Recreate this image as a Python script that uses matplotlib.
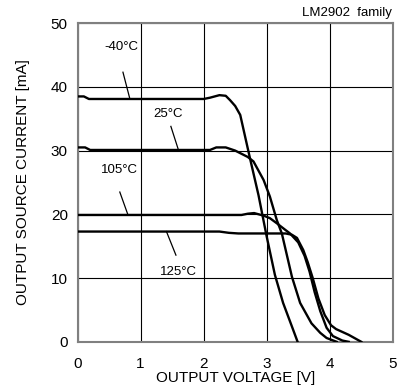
import matplotlib
matplotlib.use("Agg")
import matplotlib.pyplot as plt

plt.rcParams['font.family'] = ['Liberation Sans', 'DejaVu Sans']

# curves (output voltage [V], source current [mA])
v_m40 = [0, 0.1, 0.18, 2.0, 2.1, 2.25, 2.35, 2.42, 2.5, 2.58, 2.73, 2.87, 3.0, 3.13, 3.26, 3.4, 3.49]
i_m40 = [38.5, 38.5, 38.1, 38.1, 38.3, 38.7, 38.6, 37.9, 37.0, 35.6, 29.0, 23.0, 16.5, 10.5, 6.1, 2.4, 0]

v_25 = [0, 0.12, 0.2, 2.1, 2.2, 2.35, 2.5, 2.58, 2.7, 2.79, 2.95, 3.05, 3.16, 3.24, 3.4, 3.53, 3.71, 3.85, 3.95, 4.11]
i_25 = [30.5, 30.5, 30.1, 30.1, 30.5, 30.5, 30.0, 29.6, 29.0, 28.3, 25.4, 22.8, 19.1, 17.0, 10.2, 6.1, 2.9, 1.4, 0.6, 0]

v_105 = [0, 2.6, 2.7, 2.8, 2.95, 3.05, 3.16, 3.29, 3.37, 3.5, 3.6, 3.68, 3.76, 3.85, 3.95, 4.05, 4.2, 4.3]
i_105 = [19.9, 19.9, 20.1, 20.2, 19.8, 19.4, 18.6, 17.6, 17.0, 15.6, 13.5, 11.0, 7.8, 4.8, 2.2, 0.9, 0.2, 0]

v_125 = [0, 2.25, 2.4, 2.55, 3.3, 3.4, 3.48, 3.58, 3.65, 3.73, 3.82, 3.92, 4.02, 4.1, 4.3, 4.5]
i_125 = [17.3, 17.3, 17.1, 17.0, 17.0, 16.8, 16.3, 14.4, 12.5, 10.0, 6.8, 4.2, 2.6, 2.0, 1.1, 0]

x_ticks = [0, 1, 2, 3, 4, 5]
y_ticks = [0, 10, 20, 30, 40, 50]

# label text, text position, leader line end
labels = [
    ("-40\u00b0C", (0.70, 46.3), (0.72, 42.3), (0.83, 38.1)),
    ("25\u00b0C", (1.44, 35.7), (1.48, 33.8), (1.60, 30.1)),
    ("105\u00b0C", (0.67, 27.0), (0.67, 23.5), (0.80, 19.9)),
    ("125\u00b0C", (1.60, 11.0), (1.41, 17.3), (1.56, 13.6)),
]

fig = plt.figure(figsize=(4.17, 3.92), dpi=100)
ax = fig.add_axes([0.186, 0.128, 0.756, 0.813])

for v, i in [(v_m40, i_m40), (v_25, i_25), (v_105, i_105), (v_125, i_125)]:
    ax.plot(v, i, color="black", lw=1.7, zorder=3)

for txt, tpos, p0, p1 in labels:
    ax.text(tpos[0], tpos[1], txt, fontsize=9.5, ha="center", va="center")
    ax.plot([p0[0], p1[0]], [p0[1], p1[1]], color="black", lw=0.9)

ax.set_xlim(0, 5)
ax.set_ylim(0, 50)
ax.set_xticks(x_ticks)
ax.set_yticks(y_ticks)
ax.tick_params(length=0, labelsize=11)
ax.tick_params(axis="x", pad=11)
ax.tick_params(axis="y", pad=7)
ax.grid(True, color="black", lw=0.8)
ax.set_axisbelow(True)
for s in ax.spines.values():
    s.set_color("#808080")
    s.set_linewidth(1.5)

ax.set_xlabel("OUTPUT VOLTAGE [V]", fontsize=11, labelpad=0)
ax.set_ylabel("OUTPUT SOURCE CURRENT [mA]", fontsize=11, labelpad=15)
fig.text(0.94, 0.968, "LM2902  family", fontsize=9.5, ha="right", va="center")

fig.savefig("out.png", dpi=100)
